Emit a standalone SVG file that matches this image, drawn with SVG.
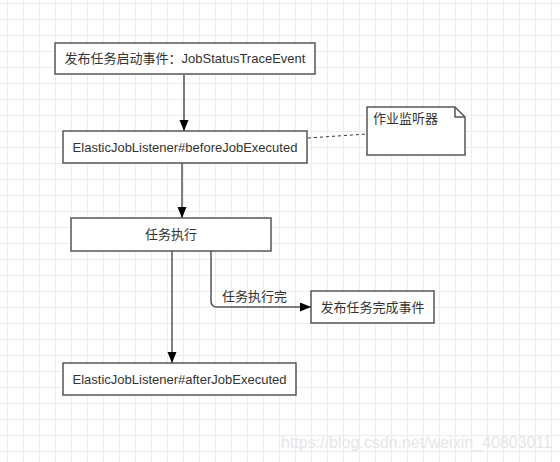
<svg xmlns="http://www.w3.org/2000/svg" width="560" height="462" viewBox="0 0 560 462">
<style>
.box{fill:#fff;stroke:#555;stroke-width:1.5}
.t{font-family:"Liberation Sans","Noto Sans CJK SC",sans-serif;font-size:13px;fill:#333}
.c{fill:none;stroke:#555;stroke-width:1.5}
.wm{font-family:"Liberation Sans","Noto Sans CJK SC",sans-serif;font-size:16px;fill:#e6e6e6}
</style>
<defs>
<pattern id="grid" patternUnits="userSpaceOnUse" x="7" y="3" width="16" height="16">
<path d="M0.5,0 V16 M0,0.5 H16" stroke="#ececec" stroke-width="1" fill="none"/>
</pattern>
<marker id="ah" markerUnits="userSpaceOnUse" markerWidth="11" markerHeight="10" refX="11" refY="4.5" orient="auto">
<path d="M0,0 L11,4.5 L0,9 Z" fill="#000"/>
</marker>
</defs>
<rect width="560" height="462" fill="#fff"/>
<rect width="560" height="462" fill="url(#grid)"/>
<g id="connectors">
<path class="c" d="M184,75 L184,131" marker-end="url(#ah)"/>
<path class="c" d="M182,163 L182,218" marker-end="url(#ah)"/>
<path class="c" d="M172,251 L172,363" marker-end="url(#ah)"/>
<path class="c" d="M211,251 L211,301 Q211,307 217,307 L311,307" marker-end="url(#ah)"/>
<path d="M308,138 L367,134" fill="none" stroke="#333" stroke-width="1" stroke-dasharray="3,3"/>
<text class="t" x="222" y="301">任务执行完</text>
</g>
<g id="n1">
<rect class="box" x="55" y="43" width="260" height="31"/>
<text class="t" x="185" y="63" text-anchor="middle">发布任务启动事件：JobStatusTraceEvent</text>
</g>
<g id="n2">
<rect class="box" x="63" y="131" width="244" height="32"/>
<text class="t" x="185" y="151.5" text-anchor="middle">ElasticJobListener#beforeJobExecuted</text>
</g>
<g id="note">
<path class="box" d="M367,107 L455,107 L465,117 L465,155 L367,155 Z"/>
<path class="c" d="M455,107 L455,117 L465,117"/>
<text class="t" x="373" y="123">作业监听器</text>
</g>
<g id="n3">
<rect class="box" x="71" y="218" width="200" height="33"/>
<text class="t" x="171" y="239" text-anchor="middle">任务执行</text>
</g>
<g id="n4">
<rect class="box" x="311" y="291" width="123" height="32"/>
<text class="t" x="372.5" y="311.5" text-anchor="middle">发布任务完成事件</text>
</g>
<g id="n5">
<rect class="box" x="63" y="363" width="233" height="32"/>
<text class="t" x="179.5" y="383.5" text-anchor="middle">ElasticJobListener#afterJobExecuted</text>
</g>
<text class="wm" x="281" y="448">https://blog.csdn.net/weixin_40803011</text>
</svg>
